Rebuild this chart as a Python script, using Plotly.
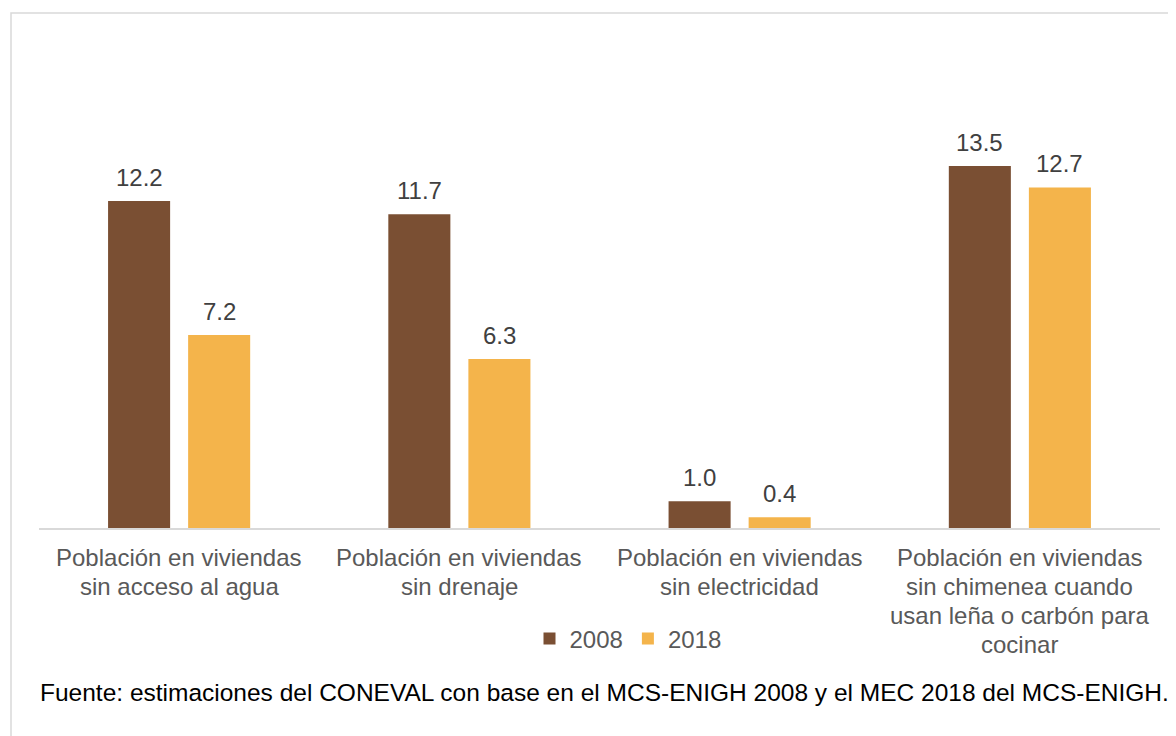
import plotly.graph_objects as go

categories = [
    "Población en viviendas<br>sin acceso al agua",
    "Población en viviendas<br>sin drenaje",
    "Población en viviendas<br>sin electricidad",
    "Población en viviendas<br>sin chimenea cuando<br>usan leña o carbón para<br>cocinar",
]
values_2008 = [12.2, 11.7, 1.0, 13.5]
values_2018 = [7.2, 6.3, 0.4, 12.7]
series_names = ["2008", "2018"]
source_note = "Fuente: estimaciones del CONEVAL con base en el MCS-ENIGH 2008 y el MEC 2018 del MCS-ENIGH."

FONT = "Liberation Sans, Arial, sans-serif"
colors = ["#7A4F33", "#F4B44B"]

OFF = 8  # page body margin offset
fig = go.Figure()
for name, vals, col in zip(series_names, [values_2008, values_2018], colors):
    fig.add_trace(go.Bar(
        x=categories, y=vals, name=name,
        marker=dict(color=col, line=dict(width=0)),
        cliponaxis=False,
    ))

annots = []
# data labels anchored at data coordinates
for vals, shift in zip([values_2008, values_2018], [-40, 40]):
    for c, v in zip(categories, vals):
        annots.append(dict(x=c, y=v, xref="x", yref="y", text=f"{v:.1f}", showarrow=False,
                           xshift=shift, yshift=8, yanchor="bottom", xanchor="center",
                           font=dict(family=FONT, size=24, color="#404040")))

# category labels, one annotation per line for tighter line spacing
for c in categories:
    for i, line in enumerate(c.split("<br>")):
        annots.append(dict(x=c, y=0, xref="x", yref="y", text=line, showarrow=False,
                           yshift=-29 - 29 * i, yanchor="middle", xanchor="center",
                           font=dict(family=FONT, size=24, color="#595959")))

# plot area geometry (pixels in the screenshot)
L, R, T, B = 39 - OFF, 16 + OFF, 40 - OFF, 208 + OFF
W = 1176 - L - R
H = 736 - T - B

def px_x(x):
    return (x - OFF - L) / W

def px_y(y):
    return (736 - B - (y - OFF)) / H

annots.append(dict(text=source_note, xref="paper", yref="paper",
                   x=px_x(604), y=px_y(692), xanchor="center", yanchor="middle",
                   showarrow=False, font=dict(family=FONT, size=24.5, color="#000000")))

fig.update_layout(
    width=1176, height=736,
    margin=dict(l=L, r=R, t=T, b=B),
    paper_bgcolor="white", plot_bgcolor="white",
    barmode="group", bargap=0.4286, bargroupgap=0.225,
    font=dict(family=FONT, size=24, color="#595959"),
    xaxis=dict(showline=True, linecolor="#D9D9D9", linewidth=1.5,
               ticks="", showticklabels=False, showgrid=False),
    yaxis=dict(range=[0, 18.2], visible=False, showgrid=False),
    showlegend=True,
    legend=dict(orientation="h", x=px_x(628), y=px_y(639), xanchor="center", yanchor="middle",
                font=dict(family=FONT, size=24, color="#595959"),
                itemwidth=30, bgcolor="rgba(0,0,0,0)", tracegroupgap=0),
    shapes=[dict(type="rect", xref="paper", yref="paper",
                 x0=px_x(11), x1=px_x(1200), y0=px_y(13), y1=px_y(760),
                 line=dict(color="#D9D9D9", width=1.5), fillcolor="rgba(0,0,0,0)", layer="below")],
    annotations=annots,
)

fig.write_html("out.html")
